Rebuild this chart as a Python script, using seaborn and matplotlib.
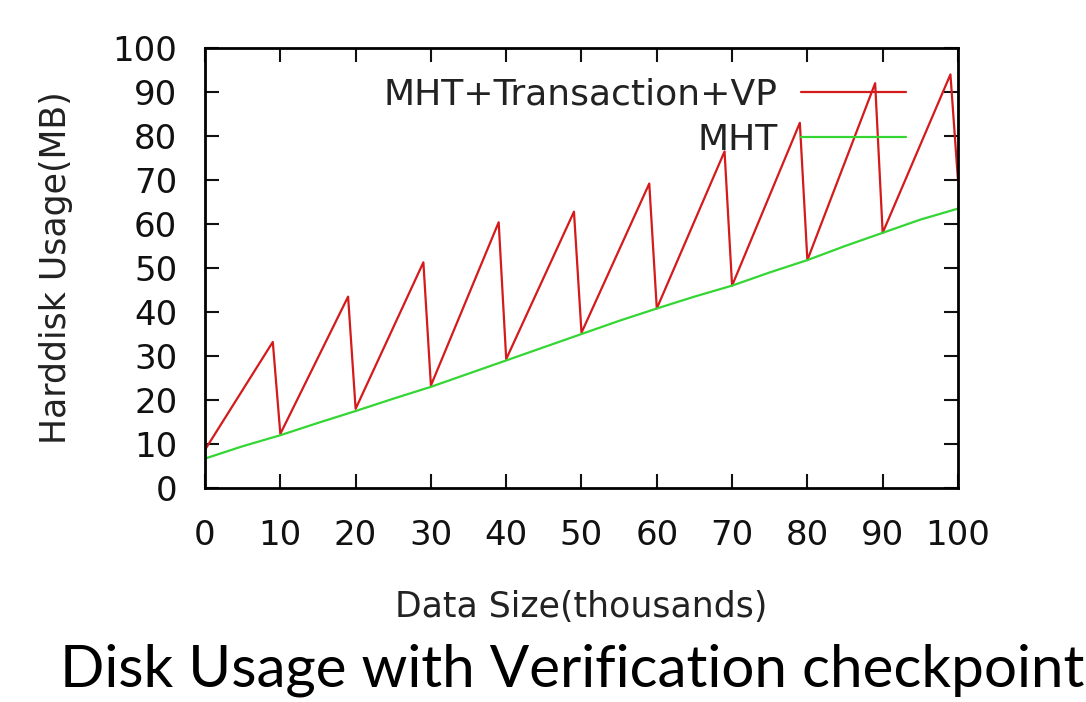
import matplotlib
matplotlib.use("Agg")
import matplotlib.pyplot as plt
import seaborn as sns
import pandas as pd

# Data
vp_x = [0, 9, 10, 19, 20, 29, 30, 39, 40, 49, 50, 59, 60, 69, 70, 79, 80, 89, 90, 99, 100]
vp_y = [8.7, 33.2, 12.3, 43.5, 18.0, 51.3, 23.3, 60.4, 29.3, 62.8, 35.3, 69.2, 40.8, 76.5, 46.0, 83.0, 51.8, 92.0, 58.0, 94.0, 70.0]

mht_x = [0, 5, 10, 15, 20, 25, 30, 35, 40, 45, 50, 55, 60, 65, 70, 75, 80, 85, 90, 95, 100]
mht_y = [6.7, 9.5, 12.0, 14.8, 17.5, 20.3, 23.0, 26.0, 29.0, 32.0, 35.0, 38.0, 40.8, 43.5, 46.0, 49.0, 51.8, 55.0, 58.0, 61.0, 63.5]

x_ticks = [0, 10, 20, 30, 40, 50, 60, 70, 80, 90, 100]
y_ticks = [0, 10, 20, 30, 40, 50, 60, 70, 80, 90, 100]

label_vp = "MHT+Transaction+VP"
label_mht = "MHT"
x_label = "Data Size(thousands)"
y_label = "Harddisk Usage(MB)"
caption = "Disk Usage with Verification checkpoint"

df = pd.concat([
    pd.DataFrame({"x": vp_x, "y": vp_y, "series": label_vp}),
    pd.DataFrame({"x": mht_x, "y": mht_y, "series": label_mht}),
])

sns.set_style("ticks")
plt.rcParams['font.family'] = ['DejaVu Sans']

fig = plt.figure(figsize=(10.86, 7.02), dpi=100)
ax = fig.add_axes([0.1888, 0.3048, 0.6933, 0.6268])

sns.lineplot(data=df, x="x", y="y", hue="series", sort=False,
             palette={label_vp: "#d41a1a", label_mht: "#33d633"},
             linewidth=1.6, ax=ax, estimator=None)

ax.set_xlim(0, 100)
ax.set_ylim(0, 100)
ax.set_xticks(x_ticks)
ax.set_yticks(y_ticks)
ax.tick_params(direction="in", length=10, width=1.5, top=True, right=True,
               labelsize=24.5, colors="#111111")
ax.tick_params(axis="y", pad=20)
ax.tick_params(axis="x", pad=22)
for s in ax.spines.values():
    s.set_linewidth(2.0)
    s.set_color("black")
    s.set_visible(True)

ax.set_xlabel(x_label, fontsize=25, color="#222222", labelpad=28)
ax.set_ylabel(y_label, fontsize=25, color="#222222", labelpad=28)

leg = ax.legend(loc="upper right", bbox_to_anchor=(0.95, 0.965), frameon=False,
                markerfirst=False, fontsize=26, handlelength=2.9,
                handletextpad=0.65, labelspacing=0.3, borderaxespad=0)
for t in leg.get_texts():
    t.set_color("#222222")

fig.text(0.527, 0.022, caption, ha="center", va="baseline",
         fontsize=42, family="Lato", color="black")

fig.savefig("out.png", dpi=100, facecolor="white")
